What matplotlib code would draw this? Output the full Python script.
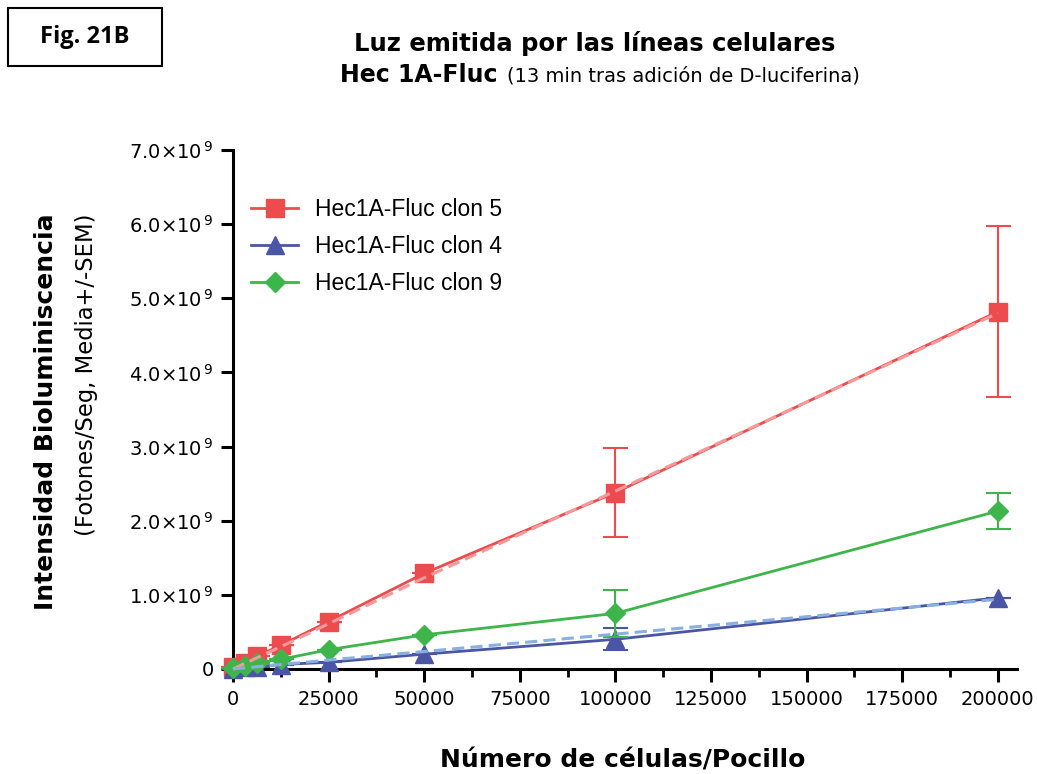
import matplotlib
matplotlib.use("Agg")
import matplotlib.pyplot as plt
from matplotlib.patches import Rectangle
from matplotlib.lines import Line2D
from matplotlib.ticker import FixedLocator, FuncFormatter

cells = [0, 3125, 6250, 12500, 25000, 50000, 100000, 200000]

clon5 = [0.02e9, 0.08e9, 0.17e9, 0.32e9, 0.64e9, 1.29e9, 2.38e9, 4.82e9]
clon5_err = [0, 0, 0, 0, 0, 0, 0.60e9, 1.15e9]
clon5_fit = [0.0, 0.075e9, 0.15e9, 0.30e9, 0.61e9, 1.23e9, 2.40e9, 4.80e9]

clon4 = [0.005e9, 0.02e9, 0.03e9, 0.06e9, 0.09e9, 0.20e9, 0.40e9, 0.96e9]
clon4_err = [0, 0, 0, 0, 0, 0, 0.15e9, 0]
clon4_fit = [0.0, 0.015e9, 0.03e9, 0.06e9, 0.12e9, 0.235e9, 0.47e9, 0.94e9]

clon9 = [0.01e9, 0.04e9, 0.08e9, 0.13e9, 0.26e9, 0.46e9, 0.75e9, 2.13e9]
clon9_err = [0, 0, 0, 0, 0, 0, 0.32e9, 0.24e9]

labels = ["Hec1A-Fluc clon 5", "Hec1A-Fluc clon 4", "Hec1A-Fluc clon 9"]
x_ticks = [0, 25000, 50000, 75000, 100000, 125000, 150000, 175000, 200000]
y_ticks = [0, 1e9, 2e9, 3e9, 4e9, 5e9, 6e9, 7e9]

red = "#EE4B4F"
red_fit = "#F49A9A"
blue = "#4B55A5"
blue_fit = "#88B0E0"
green = "#3DB54A"

fig = plt.figure(figsize=(10.37, 7.74), dpi=100)
ax = fig.add_axes([0.2247, 0.1357, 0.7560, 0.6705])

lw = 2.0
ax.errorbar(cells, clon5, yerr=clon5_err, color=red, marker="s", ms=13,
            lw=lw, elinewidth=1.5, capsize=9, capthick=1.5, clip_on=False,
            zorder=3)
ax.errorbar(cells, clon4, yerr=clon4_err, color=blue, marker="^", ms=13,
            lw=lw, elinewidth=1.5, capsize=9, capthick=1.5, clip_on=False,
            zorder=3)
ax.errorbar(cells, clon9, yerr=clon9_err, color=green, marker="D", ms=10,
            lw=lw, elinewidth=1.5, capsize=9, capthick=1.5, clip_on=False,
            zorder=4)
ax.plot(cells, clon5_fit, color=red_fit, lw=2.2, ls=(0, (4, 2)), zorder=5, clip_on=False)
ax.plot(cells, clon4_fit, color=blue_fit, lw=2.2, ls=(0, (4, 2)), zorder=5, clip_on=False)

ax.set_xlim(0, 205000)
ax.set_ylim(0, 7e9)
ax.spines["top"].set_visible(False)
ax.spines["right"].set_visible(False)
for s in ("left", "bottom"):
    ax.spines[s].set_linewidth(2.2)

ax.xaxis.set_major_locator(FixedLocator(x_ticks))
ax.xaxis.set_minor_locator(FixedLocator([12500 + 25000 * i for i in range(8)]))
ax.yaxis.set_major_locator(FixedLocator(y_ticks))


def yfmt(v, pos):
    if v == 0:
        return "0"
    return "%.1f$\\times$10$^{\\,9}$" % (v / 1e9)


ax.yaxis.set_major_formatter(FuncFormatter(yfmt))
ax.xaxis.set_major_formatter(FuncFormatter(lambda v, p: "%d" % v))
ax.tick_params(axis="both", which="major", direction="out", length=9, width=2.2,
               labelsize=14, colors="black")
ax.tick_params(axis="x", which="minor", direction="out", length=6, width=2.0)
ax.tick_params(axis="x", pad=6)
ax.tick_params(axis="y", pad=5)

handles = [
    Line2D([], [], color=red, marker="s", ms=13, lw=lw),
    Line2D([], [], color=blue, marker="^", ms=13, lw=lw),
    Line2D([], [], color=green, marker="D", ms=10, lw=lw),
]
ax.legend(handles, labels, loc="upper left",
          bbox_to_anchor=(-0.003, 0.948), frameon=False,
          prop={"family": "Liberation Sans", "size": 16.5},
          handlelength=2.05, handletextpad=0.75, labelspacing=0.62)

# Y-axis labels
fig.text(0.044, 1 - 213 / 774, "Intensidad Bioluminiscencia", rotation=90,
         ha="center", va="top", fontsize=18, fontweight="bold")
fig.text(0.083, 1 - 213 / 774, "(Fotones/Seg, Media+/-SEM)", rotation=90,
         ha="center", va="top", fontsize=16.3)

# X-axis label
fig.text(0.6, 1 - 760 / 774, "Número de células/Pocillo", ha="center", va="center",
         fontsize=18, fontweight="bold")

# Title
fig.text(0.573, 1 - 43 / 774, "Luz emitida por las líneas celulares", ha="center",
         va="center", fontsize=17.5, fontweight="bold")
fig.text(340 / 1037, 1 - 75 / 774, "Hec 1A-Fluc", ha="left", va="center",
         fontsize=17, fontweight="bold")
fig.text(507 / 1037, 1 - 76 / 774, "(13 min tras adición de D-luciferina)", ha="left",
         va="center", fontsize=14)

# Figure tag box
fig.patches.append(Rectangle((8 / 1037, 1 - 66 / 774), 154 / 1037, 58 / 774,
                             transform=fig.transFigure, fill=False,
                             edgecolor="black", lw=1.5))
fig.text(85 / 1037, 1 - 37 / 774, "Fig. 21B", ha="center", va="center",
         fontsize=17, fontweight="bold", family="Open Sans")

fig.savefig("out.png", dpi=100)
